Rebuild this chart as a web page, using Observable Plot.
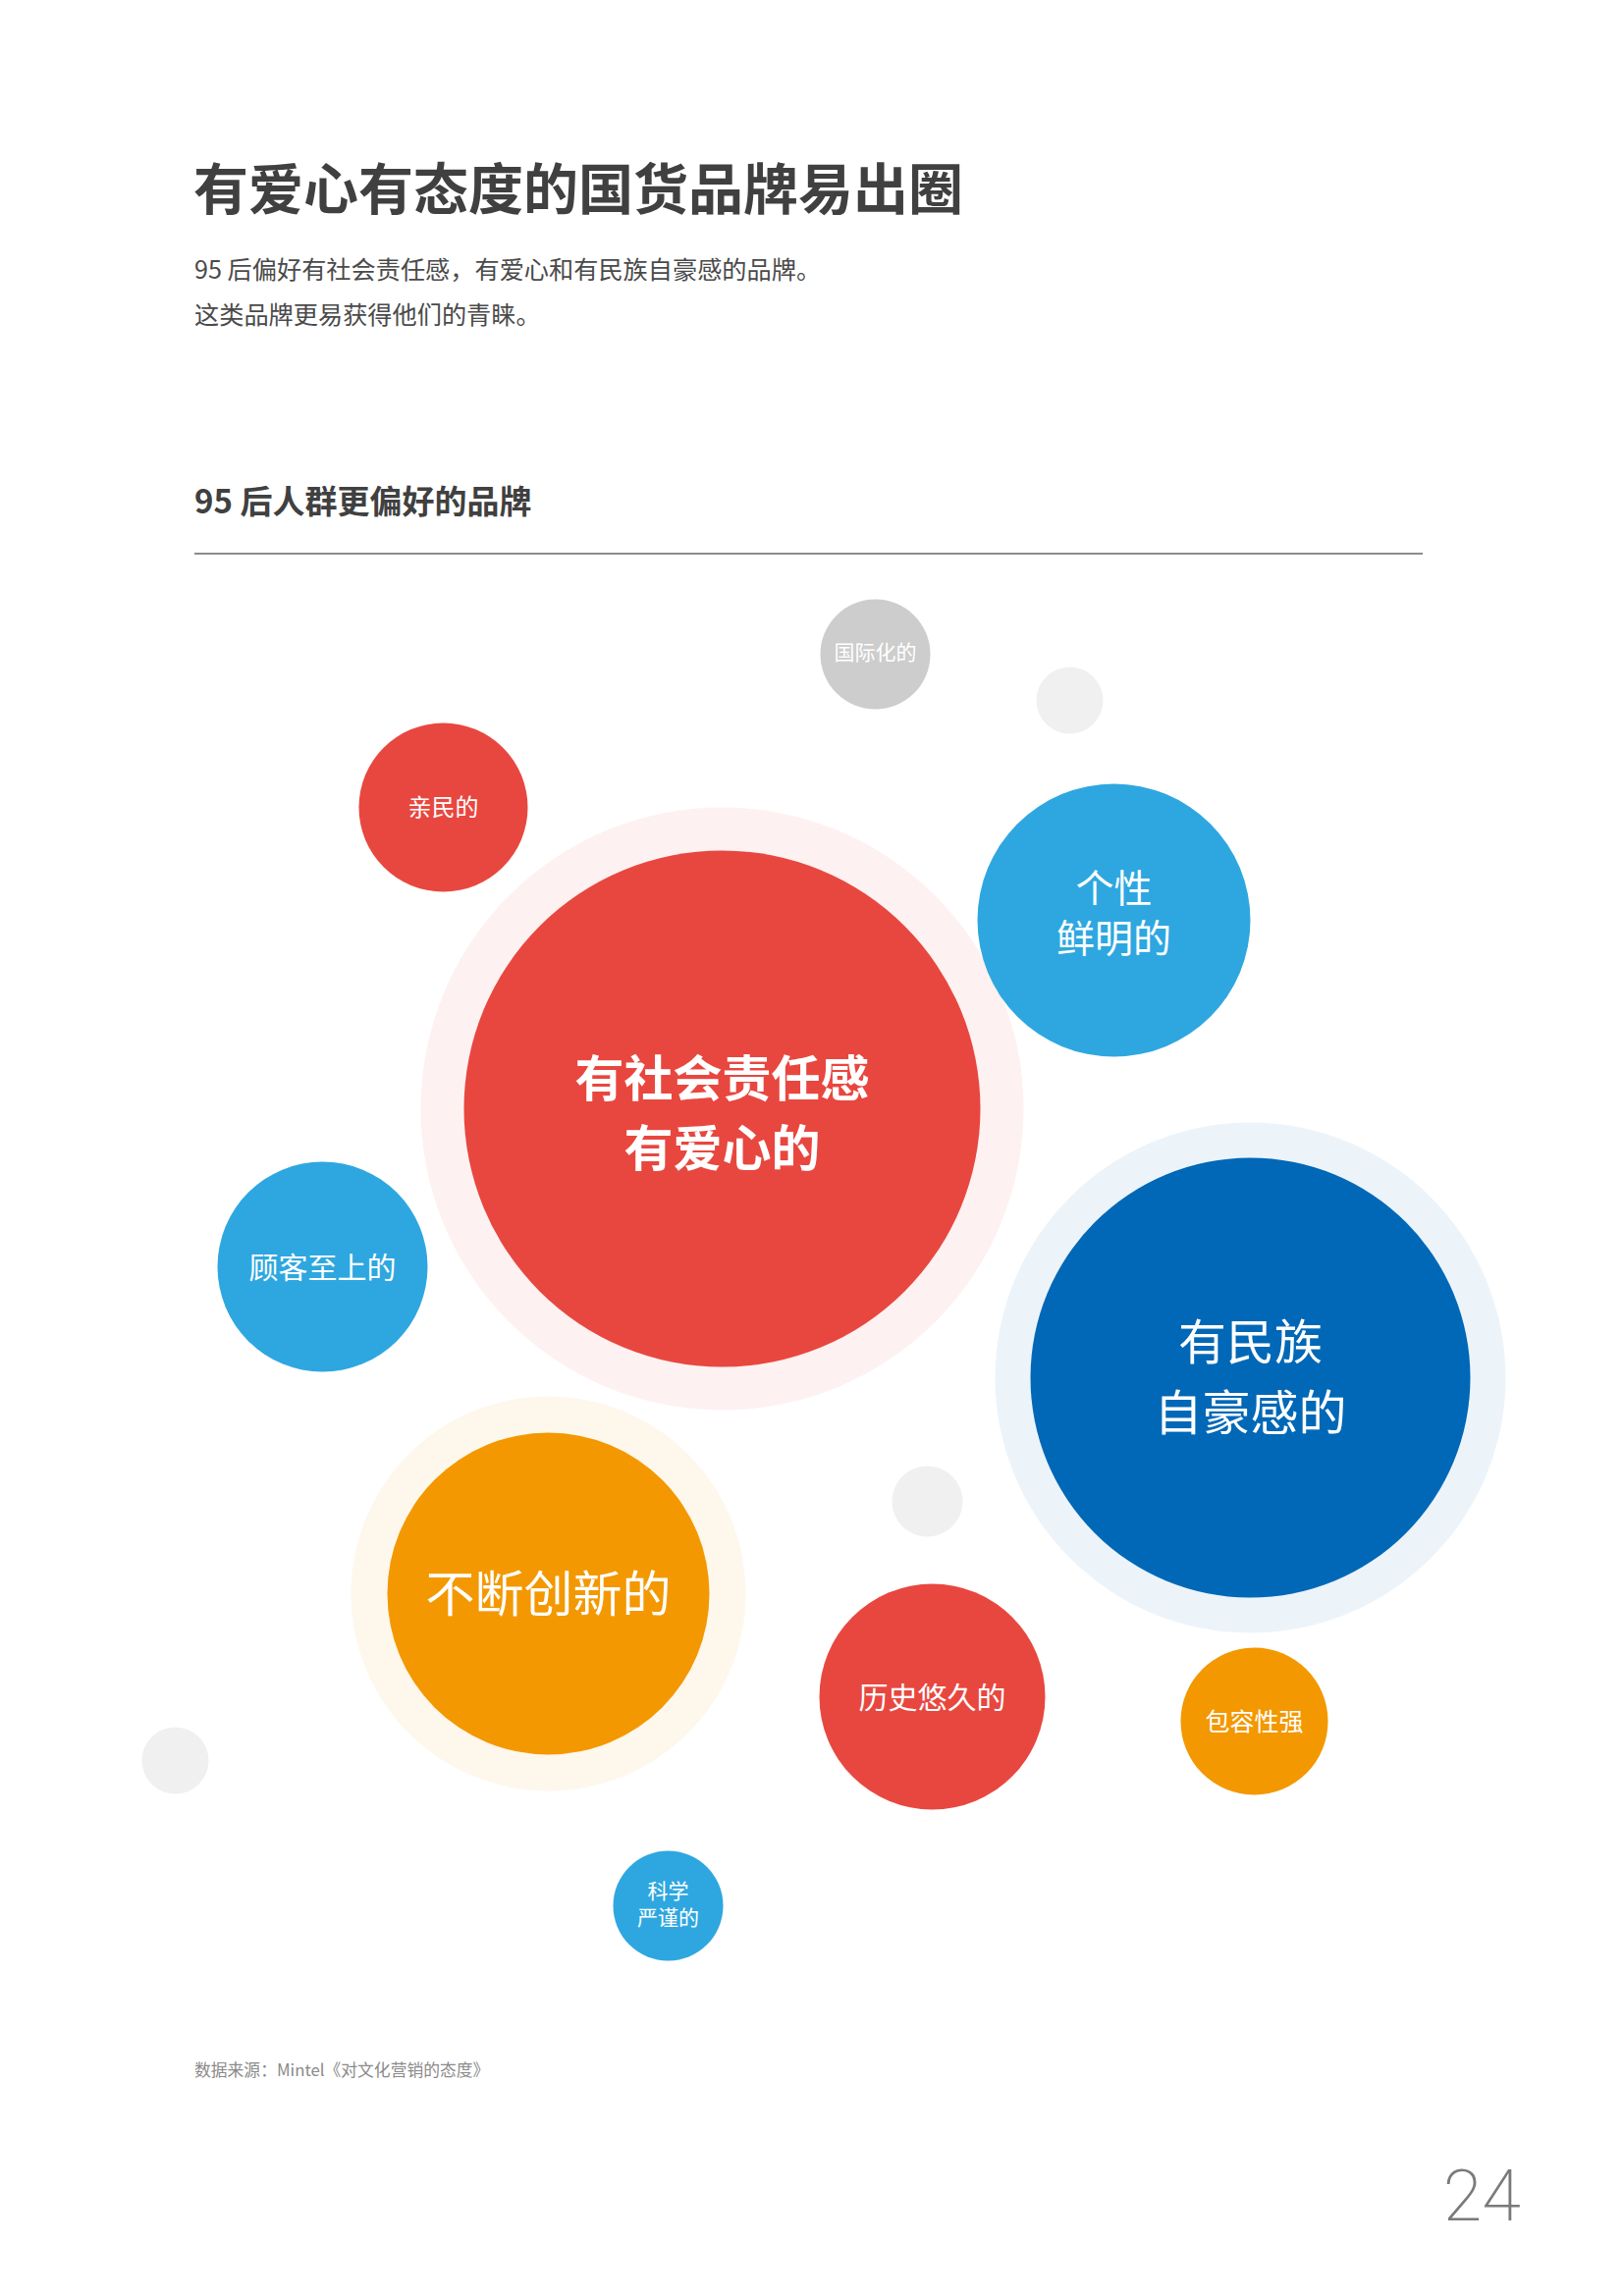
<!DOCTYPE html>
<html>
<head>
<meta charset="utf-8">
<script src="https://cdn.jsdelivr.net/npm/d3@7"></script>
<script src="https://cdn.jsdelivr.net/npm/@observablehq/plot@0.6"></script>
<style>
html,body{margin:0;padding:0;background:#fff;}
body{width:1653px;height:2339px;position:relative;overflow:hidden;font-family:"Noto Sans CJK SC","Noto Sans",sans-serif;}
.abs{position:absolute;white-space:nowrap;}
#title{left:197px;top:161px;font-size:56px;line-height:56px;font-weight:700;color:#404040;}
#subtitle{left:198px;top:250px;font-size:25.2px;line-height:46px;color:#4a4a4a;}
#section{left:198px;top:489px;font-size:33px;line-height:40px;font-weight:700;color:#404040;}
#rule{left:198px;top:563px;width:1251px;height:2px;background:#8c8c8c;}
#chart{left:0;top:590px;}
#source{left:198px;top:2097px;font-size:16.8px;line-height:22px;color:#8a8a8a;}
#page{right:104px;top:2196px;font-family:Roboto,"Open Sans",sans-serif;font-weight:200;font-size:72px;line-height:84px;color:#7a7a7a;}
</style>
</head>
<body>
<div id="title" class="abs">有爱心有态度的国货品牌易出圈</div>
<div id="subtitle" class="abs">95 后偏好有社会责任感，有爱心和有民族自豪感的品牌。<br>这类品牌更易获得他们的青睐。</div>
<div id="section" class="abs">95 后人群更偏好的品牌</div>
<div id="rule" class="abs"></div>
<div id="chart" class="abs"></div>
<div id="source" class="abs">数据来源：Mintel《对文化营销的态度》</div>
<div id="page" class="abs">24</div>
<script>
// ---- data ----
const labels = ["国际化的", "", "亲民的", "个性\n鲜明的", "有社会责任感\n有爱心的", "顾客至上的", "有民族\n自豪感的", "不断创新的", "", "历史悠久的", "包容性强", "", "科学\n严谨的"];
const groups = ["灰", "浅灰", "红", "浅蓝", "红", "浅蓝", "深蓝", "橙", "浅灰", "红", "橙", "浅灰", "浅蓝"];
const xs = [891, 1089, 451, 1134, 735, 328, 1273, 558, 944, 949, 1277, 178, 680];
const ys = [76, 123, 232, 347, 539, 700, 813, 1033, 939, 1138, 1163, 1203, 1351];
const radii = [56, 34, 86, 139, 263, 107, 224, 164, 36, 115, 75, 34, 56];
const haloLabels = ["有社会责任感\n有爱心的", "有民族\n自豪感的", "不断创新的"];
const haloRadii = [307, 260, 201];

// ---- styles ----
const groupDomain = ["红", "浅蓝", "深蓝", "橙", "灰", "浅灰"];
const groupColors = ["#e8473f", "#2ea7e0", "#0068b7", "#f39800", "#cdcdcd", "#f0f0f0"];
const labelStyle = {
  "国际化的": {size: 21, lh: 1.3, dy: -3, weight: 400},
  "亲民的": {size: 24, lh: 1.3, dy: -1, weight: 400},
  "个性\n鲜明的": {size: 39, lh: 1.3, dy: -9, weight: 400},
  "有社会责任感\n有爱心的": {size: 50, lh: 1.42, dy: 0, weight: 700},
  "顾客至上的": {size: 30, lh: 1.3, dy: -1, weight: 400},
  "有民族\n自豪感的": {size: 49, lh: 1.47, dy: -6, weight: 400},
  "不断创新的": {size: 50, lh: 1.3, dy: -2, weight: 400},
  "历史悠久的": {size: 30, lh: 1.3, dy: -1, weight: 400},
  "包容性强": {size: 25, lh: 1.3, dy: -1, weight: 400},
  "科学\n严谨的": {size: 21, lh: 1.3, dy: -3, weight: 400}
};
const font = "'Noto Sans CJK SC','Noto Sans',sans-serif";

const data = labels.map((label, i) => ({label, group: groups[i], x: xs[i], y: ys[i], r: radii[i]}));
const halos = haloLabels.map((label, i) => {
  const b = data.find(d => d.label === label);
  return {label, group: b.group, x: b.x, y: b.y, r: haloRadii[i]};
});
const texts = data.filter(d => d.label);

const textMarks = texts.map(d => {
  const s = labelStyle[d.label];
  return Plot.text([d], {
    x: "x", y: "y", text: "label", fill: "white", fontWeight: s.weight,
    fontFamily: font, fontSize: s.size, lineHeight: s.lh, dy: s.dy
  });
});

const W = 1653, H = 1500;
const chart = Plot.plot({
  width: W,
  height: H,
  margin: 0,
  x: {domain: [0, W], range: [0, W], axis: null},
  y: {domain: [0, H], range: [0, H], axis: null},
  r: {type: "linear", domain: [0, 400], range: [0, 400]},
  color: {domain: groupDomain, range: groupColors},
  style: {background: "transparent"},
  marks: [
    Plot.dot(halos, {x: "x", y: "y", r: "r", fill: "group", fillOpacity: 0.075}),
    Plot.dot(data, {x: "x", y: "y", r: "r", fill: "group"}),
    ...textMarks
  ]
});
document.getElementById("chart").appendChild(chart);
</script>
</body>
</html>
